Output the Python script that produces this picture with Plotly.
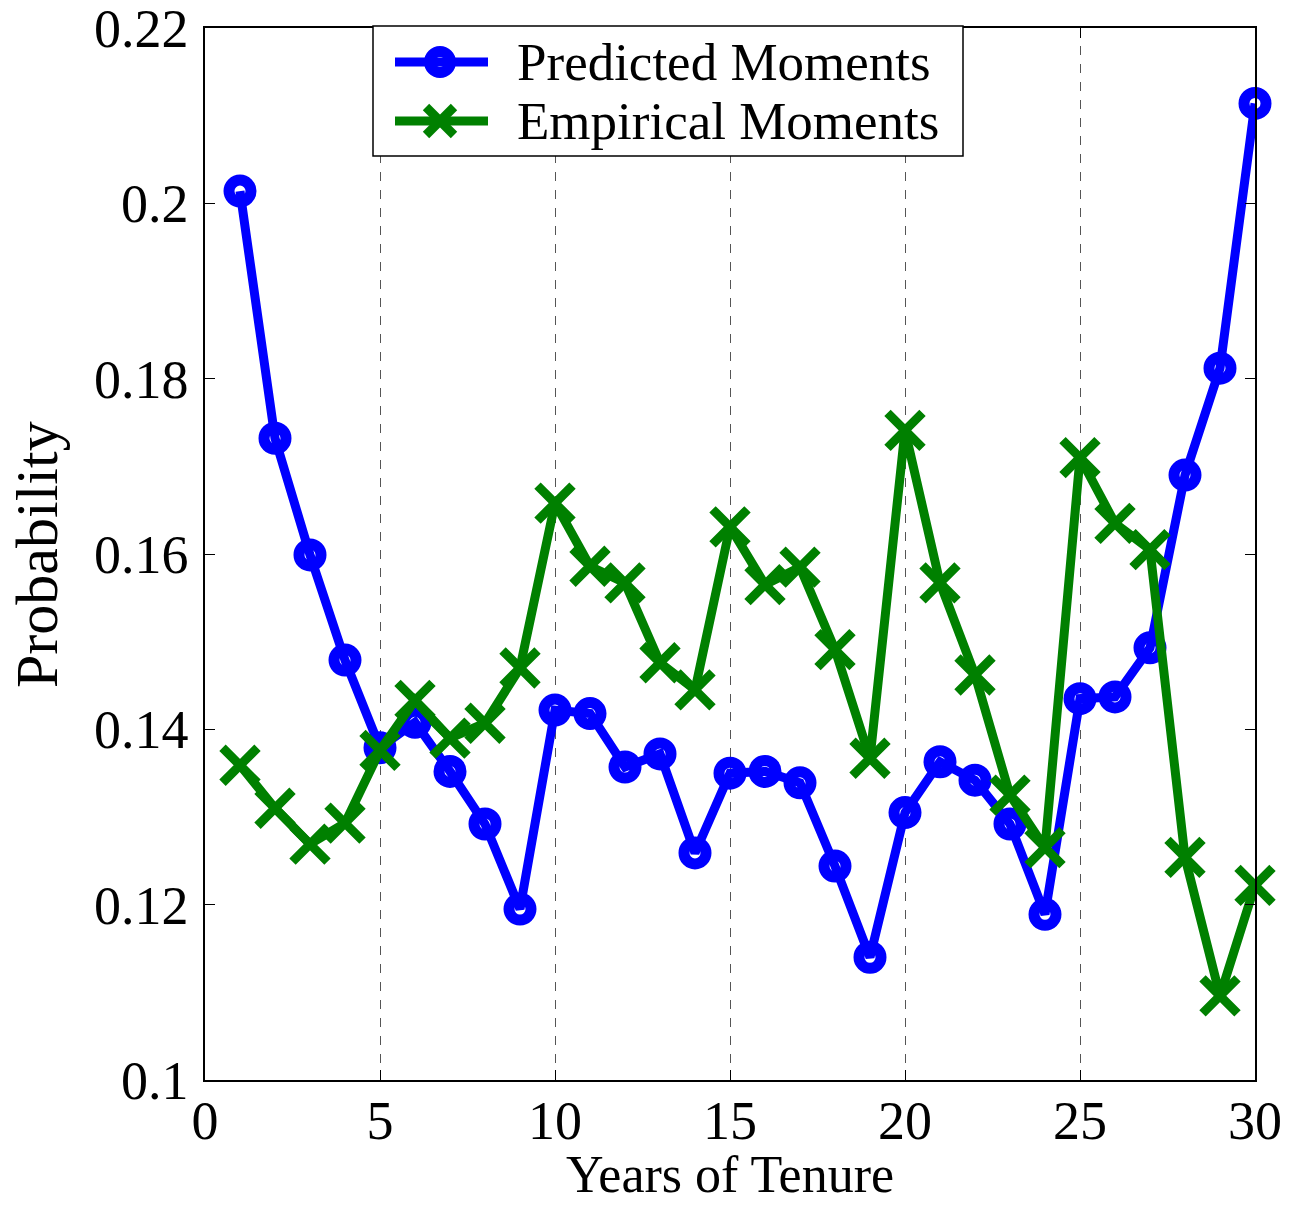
import plotly.graph_objects as go

years = list(range(1, 31))

predicted = [0.2014, 0.1732, 0.1599, 0.1479, 0.1379, 0.1408, 0.1352, 0.1292, 0.1195, 0.1422,
             0.1418, 0.1357, 0.1372, 0.1259, 0.1350, 0.1352, 0.1339, 0.1244, 0.1140, 0.1305,
             0.1363, 0.1342, 0.1292, 0.1189, 0.1435, 0.1437, 0.1493, 0.1690, 0.1812, 0.2114]

empirical = [0.1359, 0.1310, 0.1269, 0.1293, 0.1376, 0.1433, 0.1390, 0.1407, 0.1470, 0.1658,
             0.1586, 0.1567, 0.1476, 0.1445, 0.1631, 0.1565, 0.1585, 0.1491, 0.1367, 0.1741,
             0.1567, 0.1462, 0.1325, 0.1265, 0.1710, 0.1635, 0.1605, 0.1254, 0.1096, 0.1222]

series_names = ["Predicted Moments", "Empirical Moments"]
series_colors = ["#0000ff", "#008000"]

x_ticks = [0, 5, 10, 15, 20, 25, 30]
y_ticks = [0.10, 0.12, 0.14, 0.16, 0.18, 0.20, 0.22]
y_tick_labels = ["0.1", "0.12", "0.14", "0.16", "0.18", "0.2", "0.22"]

FONT = "Liberation Serif"
W, H = 1292, 1205
ML, MR, MT, MB = 205, 37, 28, 125
PW, PH = W - ML - MR, H - MT - MB


def px(xp):
    """Horizontal page pixel -> paper fraction."""
    return (xp - ML) / PW


def py(yp):
    """Vertical page pixel (from top) -> paper fraction."""
    return (H - MB - yp) / PH


fig = go.Figure()
fig.add_trace(go.Scatter(
    x=years, y=predicted, name=series_names[0], mode="lines+markers", showlegend=False,
    cliponaxis=False,
    line=dict(color=series_colors[0], width=9),
    marker=dict(symbol="circle-open", size=22, color=series_colors[0],
                line=dict(width=11, color=series_colors[0])),
))
fig.add_trace(go.Scatter(
    x=years, y=empirical, name=series_names[1], mode="lines+markers", showlegend=False,
    cliponaxis=False,
    line=dict(color=series_colors[1], width=9),
    marker=dict(symbol="x-thin-open", size=35, color=series_colors[1],
                line=dict(width=9, color=series_colors[1])),
))

# Boxed legend in the upper part of the axes, with long line samples
shapes = [dict(type="rect", xref="paper", yref="paper",
               x0=px(373), x1=px(963), y0=py(156), y1=py(26),
               line=dict(color="black", width=1.5), fillcolor="white", layer="above")]
annotations = []
row_y = [62, 121]
for i, (name, color) in enumerate(zip(series_names, series_colors)):
    ry = row_y[i]
    shapes.append(dict(type="line", xref="paper", yref="paper",
                       x0=px(395), x1=px(488), y0=py(ry), y1=py(ry),
                       line=dict(color=color, width=9), layer="above"))
    if i == 0:
        r = 10.5
        shapes.append(dict(type="circle", xref="paper", yref="paper",
                           x0=px(440 - r), x1=px(440 + r), y0=py(ry + r), y1=py(ry - r),
                           line=dict(color=color, width=11), layer="above"))
    else:
        a = 14
        for s in (1, -1):
            shapes.append(dict(type="line", xref="paper", yref="paper",
                               x0=px(440 - a), x1=px(440 + a), y0=py(ry + s * a), y1=py(ry - s * a),
                               line=dict(color=color, width=9), layer="above"))
    annotations.append(dict(text=name, xref="paper", yref="paper", x=px(515), y=py(ry),
                            xanchor="left", yanchor="middle", showarrow=False,
                            font=dict(family=FONT, size=53, color="black")))

# Axis titles
annotations.append(dict(text="Years of Tenure", xref="paper", yref="paper",
                        x=0.5, y=py(1205), xanchor="center", yanchor="bottom", showarrow=False,
                        font=dict(family=FONT, size=52, color="black")))
annotations.append(dict(text="Probability", xref="paper", yref="paper",
                        x=px(37), y=py(555), xanchor="center", yanchor="middle", showarrow=False,
                        textangle=-90, font=dict(family=FONT, size=60, color="black")))

axis_common = dict(
    showline=True, linecolor="black", linewidth=1.5, mirror="ticks",
    ticks="inside", ticklen=10, tickwidth=1.2, tickcolor="black",
    tickfont=dict(family=FONT, size=54, color="black"),
    zeroline=False, ticklabeloverflow="allow", automargin=False,
)

fig.update_layout(
    width=W, height=H,
    margin=dict(l=ML, r=MR, t=MT, b=MB, autoexpand=False),
    paper_bgcolor="white", plot_bgcolor="white",
    font=dict(family=FONT, color="black"),
    showlegend=False,
    xaxis=dict(
        range=[0, 30], tickvals=x_ticks,
        showgrid=True, gridcolor="#555555", griddash="dash", gridwidth=1,
        ticklabelstandoff=-8,
        **axis_common,
    ),
    yaxis=dict(
        range=[0.1, 0.22], tickvals=y_ticks, ticktext=y_tick_labels,
        showgrid=False,
        ticklabelstandoff=4,
        **axis_common,
    ),
    shapes=shapes,
    annotations=annotations,
)

fig.write_html("out.html")
